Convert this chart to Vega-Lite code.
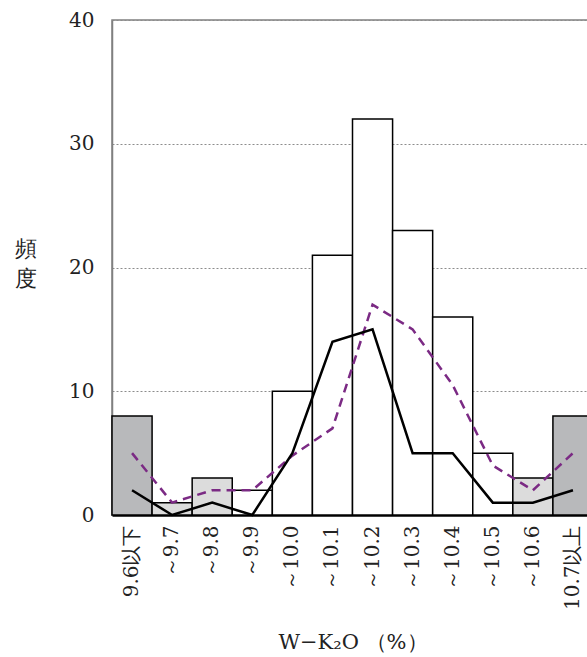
{
  "$schema": "https://vega.github.io/schema/vega-lite/v6.json",
  "autosize": "none",
  "width": 481,
  "height": 495,
  "padding": {"left": 112, "top": 20, "right": 0, "bottom": 142},
  "background": "white",
  "config": {
    "font": "DejaVu Serif",
    "view": {"stroke": "#808080", "strokeWidth": 1.5}
  },
  "data": {
    "values": [
      {"cls": "9.6以下", "n": 8, "a": 2, "b": 5, "kind": "end"},
      {"cls": "～9.7", "n": 1, "a": 0, "b": 1, "kind": "dot"},
      {"cls": "～9.8", "n": 3, "a": 1, "b": 2, "kind": "dot"},
      {"cls": "～9.9", "n": 2, "a": 0, "b": 2, "kind": "plain"},
      {"cls": "～10.0", "n": 10, "a": 5, "b": 4.8, "kind": "plain"},
      {"cls": "～10.1", "n": 21, "a": 14, "b": 7, "kind": "plain"},
      {"cls": "～10.2", "n": 32, "a": 15, "b": 17, "kind": "plain"},
      {"cls": "～10.3", "n": 23, "a": 5, "b": 15, "kind": "plain"},
      {"cls": "～10.4", "n": 16, "a": 5, "b": 10.5, "kind": "plain"},
      {"cls": "～10.5", "n": 5, "a": 1, "b": 4, "kind": "plain"},
      {"cls": "～10.6", "n": 3, "a": 1, "b": 2, "kind": "dot"},
      {"cls": "10.7以上", "n": 8, "a": 2, "b": 5, "kind": "end"}
    ]
  },
  "encoding": {
    "x": {
      "field": "cls",
      "type": "nominal",
      "sort": null,
      "scale": {"paddingInner": 0, "paddingOuter": 0},
      "axis": {
        "title": "W−K₂O （%）",
        "titleFont": "DejaVu Serif",
        "titleFontSize": 21,
        "titleFontWeight": "normal",
        "titleColor": "#222",
        "titlePadding": 22,
        "labelFont": "DejaVu Serif",
        "labelAngle": -90,
        "labelFontSize": 20,
        "labelColor": "#222",
        "labelPadding": 10,
        "ticks": false,
        "domainColor": "black",
        "domainWidth": 2.5
      }
    }
  },
  "layer": [
    {
      "mark": {"type": "bar", "stroke": "black", "strokeWidth": 1.5},
      "encoding": {
        "y": {
          "field": "n",
          "type": "quantitative",
          "scale": {"domain": [0, 40]},
          "axis": {
            "values": [0, 10, 20, 30, 40],
            "title": ["頻", "度"],
            "titleFont": "DejaVu Serif",
            "titleAngle": 0,
            "titleFontSize": 22,
            "titleFontWeight": "normal",
            "titleColor": "#222",
            "titleX": -87,
            "titleY": 240,
            "titleAlign": "center",
            "titleLineHeight": 30,
            "labelFont": "DejaVu Serif",
            "labelFontSize": 20,
            "labelFontWeight": "normal",
            "labelColor": "#222",
            "labelPadding": 18,
            "ticks": false,
            "domainColor": "#808080",
            "domainWidth": 1.5,
            "grid": true,
            "gridColor": "#8c8c8c",
            "gridDash": [2, 2],
            "gridWidth": 1
          }
        },
        "fill": {
          "field": "kind",
          "type": "nominal",
          "scale": {"domain": ["end", "dot", "plain"], "range": ["#b8b9bb", "#dcdcdc", "white"]},
          "legend": null
        }
      }
    },
    {
      "mark": {"type": "line", "color": "#7b2a84", "strokeWidth": 2.5, "strokeDash": [9, 6]},
      "encoding": {"y": {"field": "b", "type": "quantitative"}}
    },
    {
      "mark": {"type": "line", "color": "black", "strokeWidth": 2.5},
      "encoding": {"y": {"field": "a", "type": "quantitative"}}
    }
  ]
}
